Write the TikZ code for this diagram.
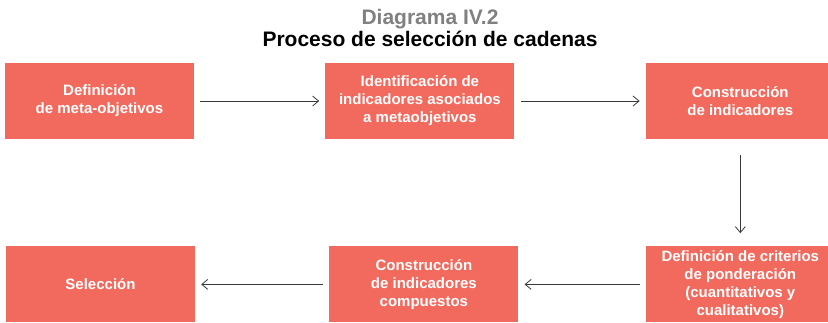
\documentclass[tikz,border=0pt]{standalone}
\usepackage{fontspec}
\setmainfont{Liberation Sans}
\usepackage{tikz}
\usetikzlibrary{arrows.meta, positioning}

\definecolor{boxred}{HTML}{F26A5E}
\definecolor{titlegray}{HTML}{808080}
\definecolor{arrowgray}{HTML}{3A3A3A}

\begin{document}
\begin{tikzpicture}[x=1pt, y=1pt,
	box/.style={fill=boxred, text=white, align=center, inner sep=0pt,
		minimum width=189pt, minimum height=76pt,
		font=\fontsize{15}{18}\selectfont\bfseries},
	conn/.style={draw=arrowgray, line width=0.8pt,
		-{Straight Barb[length=6pt, width=10pt]}, shorten <=6pt, shorten >=6pt}]

\clip (0,0) rectangle (828,-322);

% title
\node [text=titlegray, font=\fontsize{21}{24}\selectfont\bfseries, anchor=base] (num) at (430,-24) {Diagrama IV.2};
\node [font=\fontsize{21}{24}\selectfont\bfseries, anchor=base] (title) at (430,-46) {Proceso de selecci\'on de cadenas};

% top row
\node [box] (defmeta) at (99.5,-101) {
	Definici\'on \\ de meta-objetivos};
\node [box, right=131pt of defmeta] (identind) {
	Identificaci\'on de \\ indicadores asociados \\ a metaobjetivos};
\node [box, right=131pt of identind] (constind) {
	Construcci\'on \\ de indicadores};

\path [conn] (defmeta) edge (identind);
\path [conn] (identind) edge (constind);

% bottom row
\node [box, below=107pt of constind] (defcrit) {
	Definici\'on de criterios \\ de ponderaci\'on \\ (cuantitativos y \\ cualitativos)};
\node [box, left=127pt of defcrit] (constcomp) {
	Construcci\'on \\ de indicadores \\ compuestos};
\node [box, left=134pt of constcomp] (selec) {
	Selecci\'on};

\path [conn, shorten <=16pt, shorten >=13pt] (constind) edge (defcrit);
\path [conn] (defcrit) edge (constcomp);
\path [conn] (constcomp) edge (selec);

\end{tikzpicture}
\end{document}
